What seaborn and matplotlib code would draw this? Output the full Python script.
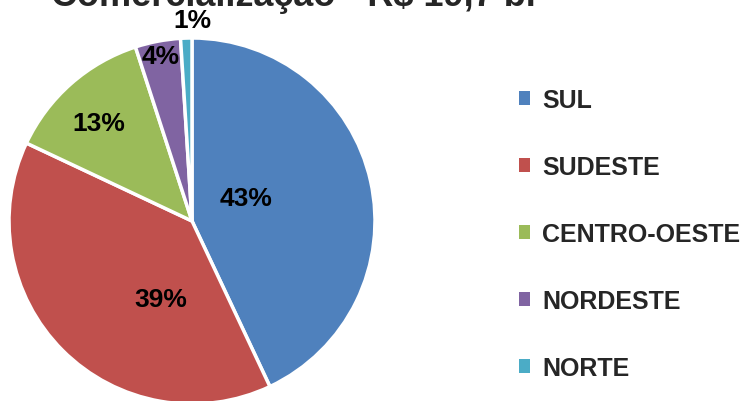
import matplotlib
matplotlib.use("Agg")
import matplotlib.pyplot as plt
import numpy as np
import seaborn as sns

# data
regions = ["SUL", "SUDESTE", "CENTRO-OESTE", "NORDESTE", "NORTE"]
shares = [43, 39, 13, 4, 1]
title = "Comercialização - R$ 19,7 bi"

# label placement (radius as fraction of pie radius, angle tweak in degrees)
label_radius = [0.32, 0.46, 0.74, 0.92, 1.10]
label_tweak = [10, 23, 2, 0, -2]

sns.set_theme(style="white")
plt.rcParams["font.family"] = ["Liberation Sans", "DejaVu Sans"]
plt.rcParams["font.weight"] = "bold"

colors = sns.color_palette(["#4F81BD", "#C0504D", "#9BBB59", "#8064A2", "#4BACC6"])

fig = plt.figure(figsize=(7.44, 4.02), dpi=100)
ax = fig.add_axes([(192 - 183) / 744, (402 - 222 - 183) / 402, 366 / 744, 366 / 402])

wedges, _ = ax.pie(
    shares,
    colors=colors,
    startangle=90,
    counterclock=False,
    wedgeprops=dict(edgecolor="white", linewidth=2.5),
)
ax.set_xlim(-1, 1)
ax.set_ylim(-1, 1)
ax.set_aspect("equal")

# Percent labels from wedge angles
for w, v, r, t in zip(wedges, shares, label_radius, label_tweak):
    ang = np.deg2rad((w.theta1 + w.theta2) / 2 + t)
    ax.text(r * np.cos(ang), r * np.sin(ang), f"{v}%", ha="center", va="center",
            fontsize=19, fontweight="bold", color="black", clip_on=False)

# title sits mostly above the canvas, like the original crop
fig.text(293 / 744, 1 - 6 / 402, title, ha="center", va="baseline",
         fontsize=26, fontweight="bold")

leg = fig.legend(
    wedges, regions,
    loc="center left",
    bbox_to_anchor=(496 / 744, 1 - 235 / 402),
    frameon=False,
    fontsize=18,
    handlelength=0.45,
    handleheight=0.45,
    handletextpad=0.5,
    labelspacing=1.72,
)
for h in leg.legend_handles:
    h.set_edgecolor("none")

fig.savefig("out.png", dpi=100)
